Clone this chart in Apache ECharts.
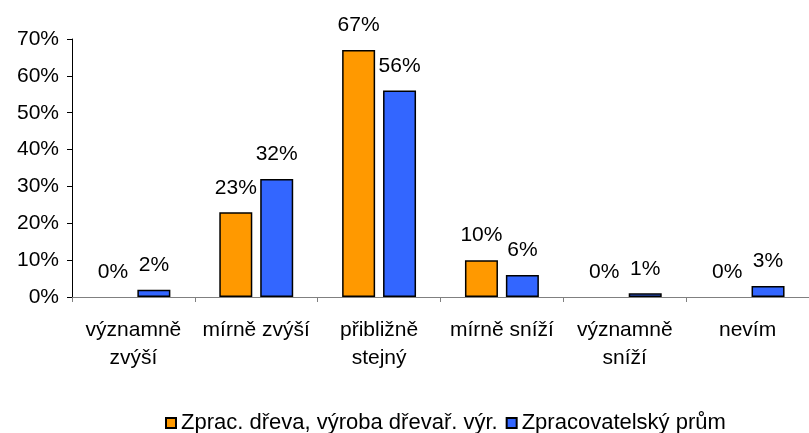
<!DOCTYPE html>
<html>
<head>
<meta charset="utf-8">
<script src="https://cdn.jsdelivr.net/npm/echarts@6/dist/echarts.min.js"></script>
<style>
  html, body { margin: 0; padding: 0; background: #fff; }
  #chart { width: 809px; height: 433px; }
</style>
</head>
<body>
<div id="chart"></div>
<script>
// kategorie
const categories = [
  "významně\nzvýší",
  "mírně zvýší",
  "přibližně\nstejný",
  "mírně sníží",
  "významně\nsníží",
  "nevím",
];
// Zprac. dřeva, výroba dřevař. výr.
const drevoValues = [0, 23, 67, 10, 0, 0];
// Zpracovatelský prům
const prumValues = [2, 32, 56, 6, 1, 3];
const seriesNames = ["Zprac. dřeva, výroba dřevař. výr.", "Zpracovatelský prům"];

const FONT = "'Liberation Sans', Arial, sans-serif";

const barLabel = {
  show: true,
  position: "top",
  distance: 14,
  fontSize: 21,
  fontFamily: FONT,
  color: "#000",
  formatter: "{c}%",
};

// nulove sloupce se v originale nekresli (bez okraje)
function toItems(values) {
  return values.map((v) => (v === 0 ? { value: v, itemStyle: { borderWidth: 0 } } : v));
}

const chart = echarts.init(document.getElementById("chart"));
chart.setOption({
  backgroundColor: "#fff",
  animation: false,
  textStyle: { fontFamily: FONT },
  grid: {
    left: 72,
    right: -7,
    top: 39,
    bottom: 136,
    containLabel: false,
  },
  legend: {
    left: 160,
    top: 407,
    icon: "rect",
    itemWidth: 10,
    itemHeight: 10,
    itemGap: 8,
    textStyle: { fontSize: 22, color: "#000", fontFamily: FONT },
    data: seriesNames,
  },
  xAxis: {
    type: "category",
    data: categories,
    axisLine: { lineStyle: { color: "#808080", width: 1 } },
    axisTick: {
      show: true,
      interval: 0,
      length: 5,
      lineStyle: { color: "#808080" },
    },
    axisLabel: {
      interval: 0,
      fontSize: 21,
      lineHeight: 28,
      margin: 19,
      color: "#000",
      fontFamily: FONT,
    },
    splitLine: { show: false },
  },
  yAxis: {
    type: "value",
    min: 0,
    max: 70,
    interval: 10,
    axisLine: { show: true, lineStyle: { color: "#000", width: 1 } },
    axisTick: { show: true, length: 5, lineStyle: { color: "#000" } },
    axisLabel: {
      formatter: "{value}%",
      fontSize: 21,
      margin: 13,
      color: "#000",
      fontFamily: FONT,
    },
    splitLine: { show: false },
  },
  series: [
    {
      name: seriesNames[0],
      type: "bar",
      barWidth: 33,
      barGap: "24%",
      data: toItems(drevoValues),
      itemStyle: { color: "#FF9900", borderColor: "#000", borderWidth: 1.5 },
      label: barLabel,
    },
    {
      name: seriesNames[1],
      type: "bar",
      barWidth: 33,
      data: toItems(prumValues),
      itemStyle: { color: "#3366FF", borderColor: "#000", borderWidth: 1.5 },
      label: barLabel,
    },
  ],
});
</script>
</body>
</html>
